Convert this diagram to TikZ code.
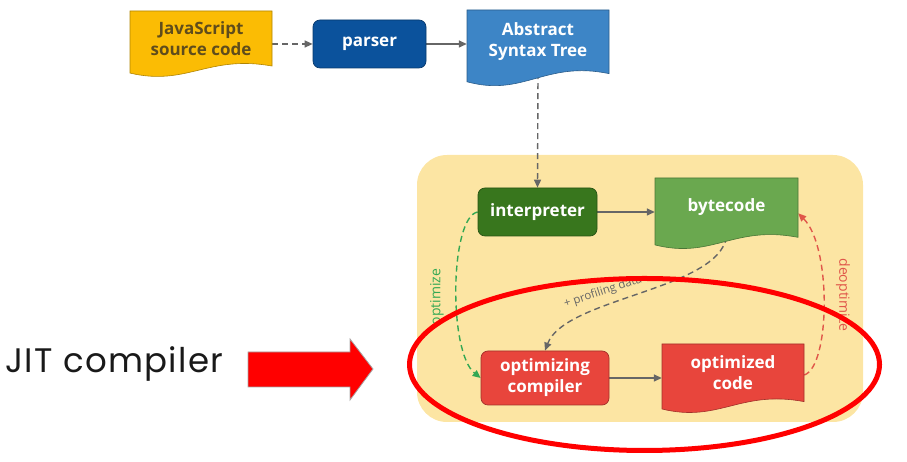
\documentclass[tikz,border=0pt]{standalone}
\usepackage{fontspec}
\setmainfont{Open Sans}
\newfontfamily\jitfont[LetterSpace=4]{Poppins}
\usetikzlibrary{arrows.meta,calc}
\definecolor{jsyellow}{HTML}{FBBC04}
\definecolor{jstext}{HTML}{5F4C1C}
\definecolor{parserblue}{HTML}{0B529C}
\definecolor{astblue}{HTML}{3D85C6}
\definecolor{interpgreen}{HTML}{38761D}
\definecolor{bcgreen}{HTML}{6AA84F}
\definecolor{optred}{HTML}{E8453C}
\definecolor{panelyellow}{HTML}{FCE5A3}
\definecolor{arrowgray}{HTML}{666666}
\definecolor{optgreen}{HTML}{34A853}
\definecolor{deoptred}{HTML}{E0574A}
\definecolor{jitred}{HTML}{FF0000}
\pgfdeclarelayer{panellayer}
\pgfdeclarelayer{connlayer}
\pgfsetlayers{panellayer,connlayer,main}
\newcommand\docshape[8]{%
  \pgfmathsetmacro\dw{#4-#2}%
  \pgfmathsetmacro\dh{#3-#5}%
  \pgfmathsetmacro\nh{0.85*\dh}%
  \filldraw[fill=#6, draw=#6!70!black, line width=0.6]
    (#2,#3) -- (#4,#3) -- (#4,{#5+0.14*\dh})
    .. controls ({#4-0.45*\dw},{#5+0.32*\dh}) and ({#2+0.4*\dw},{#5-0.18*\dh}) .. (#2,{#5+0.03*\dh}) -- cycle;
  \node[docnode, text=#7, minimum width=\dw pt, minimum height=\nh pt] (#1) at ({(#2+#4)/2},{#3-0.425*\dh}) {#8};
}
\begin{document}
\begin{tikzpicture}[x=1pt,y=1pt,
  boxfont/.style={font=\bfseries\fontsize{17}{21}\selectfont},
  procbox/.style={rectangle, rounded corners=7pt, draw=#1!70!black, fill=#1, text=white, boxfont, align=center, inner sep=0pt, line width=0.7},
  docnode/.style={rectangle, boxfont, align=center, inner sep=0pt},
  conn/.style={draw=arrowgray, line width=1.4, -{Triangle[length=8pt,width=7pt]}},
  dsh/.style={dash pattern=on 6pt off 4pt},
  lbl/.style={font=\fontsize{14}{16}\selectfont, inner sep=0pt}
]
\useasboundingbox (0,0) rectangle (907,462);

% panel
\begin{pgfonlayer}{panellayer}
\node[rectangle, rounded corners=30pt, fill=panelyellow, minimum width=446pt, minimum height=267pt, inner sep=0pt] (panel) at (640,173.5) {};
\end{pgfonlayer}

% top row
\docshape{js}{130}{451}{272}{387}{jsyellow}{jstext}{JavaScript\\source code}
\node[procbox=parserblue, minimum width=113pt, minimum height=48pt] (parser) at (369.5,418) {parser};
\docshape{ast}{467}{452}{609}{378}{astblue}{white}{Abstract\\Syntax Tree}

% engine
\node[procbox=interpgreen, minimum width=119pt, minimum height=48pt] (interp) at (537.5,250) {interpreter};
\docshape{bc}{655}{284}{798}{215}{bcgreen}{white}{bytecode}
\node[procbox=optred, minimum width=128pt, minimum height=54pt] (optc) at (545,84) {optimizing\\compiler};
\docshape{optcode}{662}{118}{804}{51}{optred}{white}{optimized\\code}

\begin{pgfonlayer}{connlayer}
\draw[conn, dsh] (js.east |- parser.west) -- (parser.west);
\draw[conn] (parser.east) -- (parser.east -| ast.west);
\draw[conn, dsh] (ast.south) -- (interp.north);
\draw[conn] (interp.east) -- (interp.east -| bc.west);
\draw[conn] (optc.east) -- (optc.east -| optcode.west);
\draw[conn, dsh] (bc.south) .. controls (718,172) and (565,164) .. (optc.north);
\draw[conn, dsh, draw=optgreen, color=optgreen] (interp.west) .. controls (450,245) and (448,110) .. (optc.west);
\draw[conn, dsh, draw=deoptred, color=deoptred] ([yshift=-2.5pt]optcode.east) .. controls (830,95) and (832,215) .. ([yshift=-6pt]bc.east);
\node[lbl, text=optgreen, rotate=90] (optlbl) at (437,165) {optimize};
\node[lbl, text=deoptred, rotate=-90] (deoptlbl) at (843,167) {deoptimize};
\node[lbl, text=arrowgray, rotate=18, font=\fontsize{11.5}{13}\selectfont] (proflbl) at (603,170) {+ profiling data};
\end{pgfonlayer}

% JIT label and arrow
\node[anchor=base west, inner sep=0pt, font=\jitfont\fontsize{34}{40}\selectfont, text=black!90] (jit) at (5,89) {JIT compiler};
\filldraw[fill=jitred, draw=gray!70, line width=0.8] (248,110) -- (350,110) -- (350,123) -- (373,93) -- (350,62) -- (350,75) -- (248,75) -- cycle;

% red ellipse
\draw[jitred, line width=5pt] (644.5,97.5) ellipse [x radius=235, y radius=86];
\end{tikzpicture}
\end{document}
